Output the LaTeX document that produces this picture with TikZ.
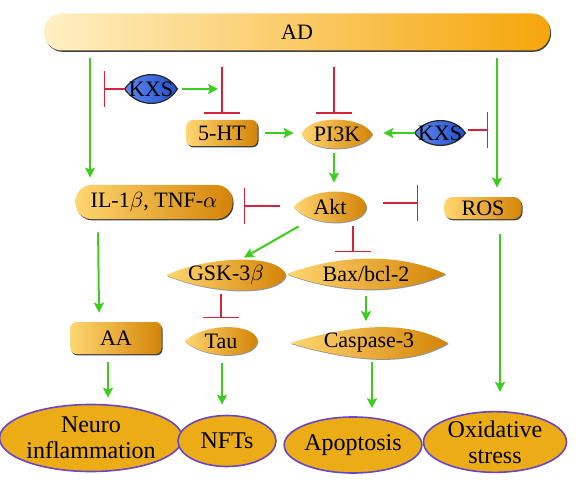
\documentclass[tikz,border=0pt]{standalone}
\usepackage{fontspec}
\setmainfont{Liberation Serif}
\usetikzlibrary{arrows.meta,calc,shapes.geometric,shadows,backgrounds}
\definecolor{actgreen}{RGB}{60,205,30}
\definecolor{inhred}{RGB}{215,35,55}
\definecolor{boxlight}{RGB}{255,214,112}
\definecolor{boxdark}{RGB}{212,132,8}
\definecolor{adlight}{RGB}{255,240,195}
\definecolor{addark}{RGB}{245,166,10}
\definecolor{outcome}{RGB}{235,172,22}
\definecolor{outline}{RGB}{105,70,200}
\definecolor{kxsblue}{RGB}{40,95,235}
\tikzset{
    act/.style={actgreen,line width=1pt,-{Stealth[length=5pt,width=5pt,inset=1pt]}},
    inh/.style={inhred,line width=0.75pt,-{Bar[width=#1]}},
    inh/.default=18pt,
    box shadow/.style={drop shadow={shadow xshift=0.5pt,shadow yshift=-0.7pt,opacity=1,fill=black!75}},
    leaf shadow/.style={drop shadow={shadow xshift=0.4pt,shadow yshift=-0.5pt,opacity=0.7,fill=black!60}},
    boxnode/.style={rounded corners=#1,left color=boxlight,right color=boxdark,box shadow,inner sep=0pt},
    leafnode/.style={inner sep=0pt},
    leaf fill/.style={left color=boxlight,right color=boxdark,leaf shadow},
    kxs fill/.style={left color=kxsblue!75!white,right color=kxsblue!85!black,draw=black!85,line width=0.6pt},
    outcomenode/.style={ellipse,fill=outcome,draw=outline,line width=0.8pt,inner sep=0pt,align=center,font=\fontsize{12}{13}\selectfont},
    every node/.style={font=\fontsize{11}{12.5}\selectfont},
}
% leaf outline round a node: #3, #4 = how pointed the west / east end is
\newcommand{\leafshape}[4][]{%
    \path[#1] (#2.west)
    .. controls ($(#2.north west)!#3!(#2.north)+0.333*(#2.north)-0.333*(#2.center)$)
    and ($(#2.north east)!#4!(#2.north)+0.333*(#2.north)-0.333*(#2.center)$) .. (#2.east)
    .. controls ($(#2.south east)!#4!(#2.south)+0.333*(#2.south)-0.333*(#2.center)$)
    and ($(#2.south west)!#3!(#2.south)+0.333*(#2.south)-0.333*(#2.center)$) .. (#2.west) -- cycle;}
\begin{document}
\begin{tikzpicture}[x=0.5pt,y=-0.5pt]
    \useasboundingbox (0,0) rectangle (577,486);

    \node[boxnode=9pt,left color=adlight,right color=addark,minimum width=253pt,minimum height=18.5pt] (ad) at (297,32) {AD};
    \node[leafnode,minimum width=26pt,minimum height=14pt] (kxsa) at (151,89) {KXS};
    \node[boxnode=3pt,minimum width=35.5pt,minimum height=13pt] (ht) at (222,133) {5-HT};
    \node[leafnode,minimum width=35pt,minimum height=14pt] (pik) at (337,134) {PI3K};
    \node[leafnode,minimum width=25pt,minimum height=12pt] (kxsb) at (440,133) {KXS};
    \node[boxnode=8pt,minimum width=78.5pt,minimum height=17pt] (il) at (154,202) {IL-1$\beta$, TNF-$\alpha$};
    \node[leafnode,minimum width=36pt,minimum height=15pt] (akt) at (330,207) {Akt};
    \node[boxnode=4pt,minimum width=38.5pt,minimum height=11pt] (ros) at (483,208) {ROS};
    \node[leafnode,minimum width=59.5pt,minimum height=15pt] (gsk) at (226,275) {GSK-3$\beta$};
    \node[leafnode,minimum width=79pt,minimum height=15pt] (bax) at (366,274) {Bax/bcl-2};
    \node[boxnode=3pt,minimum width=45.5pt,minimum height=16pt] (aa) at (116,338) {AA};
    \node[leafnode,minimum width=36pt,minimum height=13.5pt] (tau) at (221,341) {Tau};
    \node[leafnode,minimum width=78.5pt,minimum height=15.5pt] (cas) at (369,343) {Caspase-3};
    \node[outcomenode,minimum width=76pt,minimum height=33.5pt] (neuro) at (91,438) {Neuro\\inflammation};
    \node[outcomenode,minimum width=49pt,minimum height=25.5pt] (nfts) at (227,441) {NFTs};
    \node[outcomenode,minimum width=60pt,minimum height=28pt] (apo) at (353,445) {Apoptosis};
    \node[outcomenode,minimum width=71.5pt,minimum height=30pt] (oxi) at (495,442) {Oxidative\\stress};

    \begin{scope}[on background layer]
        \leafshape[kxs fill]{kxsa}{0.5}{0.45}
        \leafshape[kxs fill]{kxsb}{0.5}{0.45}
        \leafshape[leaf fill]{pik}{0.2}{0.3}
        \leafshape[leaf fill]{akt}{0.45}{0.05}
        \leafshape[leaf fill]{gsk}{0.8}{0.1}
        \leafshape[leaf fill]{bax}{0.7}{0.55}
        \leafshape[leaf fill]{tau}{0.55}{0.05}
        \leafshape[leaf fill]{cas}{0.9}{0.45}
    \end{scope}

    % AD and the KXS arms
    \draw[act] ($(ad.south -| il.north west)+(15,7)$) -- ($(il.north west)+(15,-7)$);
    \draw[inh] (kxsa.west) -- ++(-21,0);
    \draw[act] ($(kxsa.east)+(5,0)$) -- ($(kxsa.east -| ht.north)+(-4,0)$);
    \draw[inh] ($(ad.south -| ht.north)+(0,16)$) -- ($(ht.north)+(0,-6)$);
    \draw[inh] ($(ad.south -| pik.north)+(-3,16)$) -- ($(pik.north)+(-3,-6)$);
    \draw[act,shorten <=3.5pt,shorten >=4pt] (ht.east) -- (ht.east -| pik.west);
    \draw[act,shorten >=5.5pt] (kxsb.west) -- (kxsb.west -| pik.east);
    \draw[inh] ($(kxsb.east)+(3,-3)$) -- ++(20,0);
    \draw[act] ($(ad.south -| ros.north)+(14,7)$) -- ($(ros.north)+(14,-9)$);

    % Akt
    \draw[act] ($(pik.south)+(-3,5)$) -- ($(akt.north)+(4,-9)$);
    \draw[inh] ($(akt.west)+(-14,-1)$) -- ++(-36,0);
    \draw[inh] ($(akt.east)+(17,-4)$) -- ++(35,0);
    \draw[act] ($(akt.south west)+(5,4)$) -- ($(gsk.north)+(18,-2)$);
    \draw[inh] ($(akt.south)+(23,4)$) -- ++(0,26);
    \draw[inh] ($(gsk.south)+(-5,4)$) -- ($(tau.north)+(0,-9)$);
    \draw[act,shorten <=3.5pt,shorten >=3pt] (bax.south) -- (bax.south |- cas.north);

    % down to the outcomes
    \draw[act] ($(il.south west)+(23,13)$) -- ($(aa.north)+(-17,-9)$);
    \draw[act] ($(aa.south)+(-8,8)$) -- ($(aa.south |- neuro.north)+(-8,-6)$);
    \draw[act] ($(tau.south)+(1,8)$) -- ($(tau.south |- nfts.north)+(1,-10)$);
    \draw[act] ($(cas.south)+(3,3)$) -- ($(cas.south |- apo.north)+(3,-8)$);
    \draw[act] ($(ros.south)+(17,15)$) -- ($(ros.south |- oxi.north)+(17,-19)$);
\end{tikzpicture}
\end{document}
